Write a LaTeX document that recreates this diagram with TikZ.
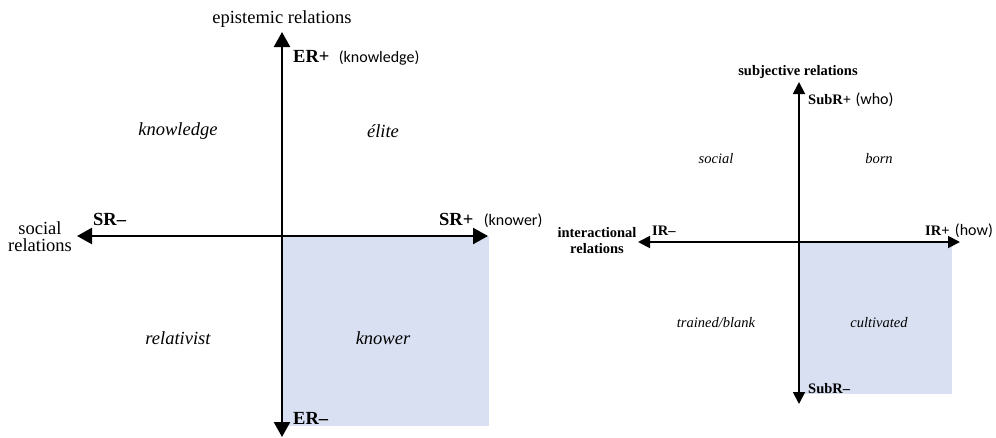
\documentclass[tikz,border=0pt]{standalone}
\usepackage{fontspec}
\setmainfont{Liberation Serif}
\newfontfamily\calibri{Carlito}
\usetikzlibrary{arrows.meta, positioning}
\definecolor{paleblue}{RGB}{216,224,241}

\begin{document}
\begin{tikzpicture}[x=1pt, y=-1pt, line join=miter,
    bigaxis/.style={{Triangle[length=15pt,width=16pt]}-{Triangle[length=15pt,width=16pt]},line width=2.4pt},
    smallaxis/.style={{Triangle[length=12pt,width=12pt]}-{Triangle[length=12pt,width=12pt]},line width=1.8pt},
    bigtxt/.style={inner sep=0pt,font=\fontsize{18.5}{17}\selectfont},
    smalltxt/.style={inner sep=0pt,font=\fontsize{14.5}{16}\selectfont},
    paren/.style={inner sep=0pt,font=\calibri\fontsize{16}{18}\selectfont}]
    	\useasboundingbox (0,0) rectangle (996,437);

    	% left plane: epistemic / social relations
    	\coordinate (Lc) at (282,236);
    	\coordinate (Ln) at (282,32);
    	\coordinate (Ls) at (282,437);
    	\coordinate (Lw) at (77,236);
    	\coordinate (Le) at (488,236);
    	\coordinate (Lbox) at (489,426);

    	% right plane: subjective / interactional relations
    	\coordinate (Rc) at (799,242);
    	\coordinate (Rn) at (799,82);
    	\coordinate (Rs) at (799,404);
    	\coordinate (Rw) at (638,242);
    	\coordinate (Re) at (960,242);
    	\coordinate (Rbox) at (952,394);

		\fill [paleblue] (Lc) rectangle (Lbox);
		\fill [paleblue] (Rc) rectangle (Rbox);

		\draw [bigaxis] (Ls)--(Ln);
		\draw [bigaxis] (Lw)--(Le);
		\draw [smallaxis] (Rs)--(Rn);
		\draw [smallaxis] (Rw)--(Re);

		\node [bigtxt] (epist) at (282,19) {epistemic relations};
		\node [bigtxt,anchor=base west] (erplus) at (293,62) {\textbf{ER+}};
		\node [paren,base right=9pt of erplus] (erknow) {(knowledge)};
		\node [bigtxt,anchor=base west] (erminus) at (293,424) {\textbf{ER\textendash}};
		\node [bigtxt,anchor=base west] (srminus) at (93,225) {\textbf{SR\textendash}};
		\node [bigtxt,anchor=base west] (srplus) at (439,225) {\textbf{SR+}};
		\node [paren,base right=10pt of srplus] (srknow) {(knower)};
		\node [bigtxt,align=center] (social) at (40,237) {social\\relations};
		\node [bigtxt] (qknow) at (178,131) {\itshape knowledge};
		\node [bigtxt] (qelite) at (383,131) {\itshape élite};
		\node [bigtxt] (qrel) at (178,338) {\itshape relativist};
		\node [bigtxt] (qknower) at (383,338) {\itshape knower};

		\node [smalltxt] (subj) at (798,72) {\textbf{subjective relations}};
		\node [smalltxt,anchor=base west] (subplus) at (808,104) {\textbf{SubR+}};
		\node [paren,base right=4pt of subplus] (subwho) {(who)};
		\node [smalltxt,anchor=base west] (subminus) at (808,393) {\textbf{SubR\textendash}};
		\node [smalltxt,anchor=base west] (irminus) at (652,235) {\textbf{IR\textendash}};
		\node [smalltxt,anchor=base west] (irplus) at (925,235) {\textbf{IR+}};
		\node [paren,base right=5pt of irplus] (irhow) {(how)};
		\node [smalltxt,align=center] (inter) at (597,241) {\textbf{interactional}\\\textbf{relations}};
		\node [smalltxt] (qsocial) at (716,159) {\itshape social};
		\node [smalltxt] (qborn) at (879,159) {\itshape born};
		\node [smalltxt] (qtrain) at (716,323) {\itshape trained/blank};
		\node [smalltxt] (qcult) at (879,323) {\itshape cultivated};
    \end{tikzpicture}
\end{document}
